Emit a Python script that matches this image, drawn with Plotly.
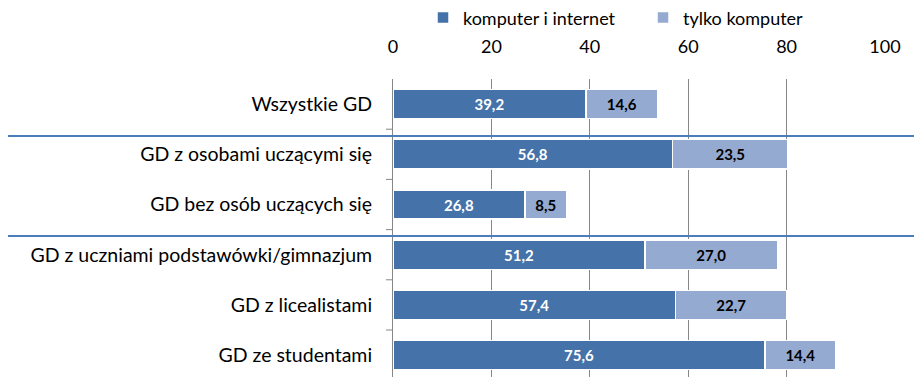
import plotly.graph_objects as go

categories = ["Wszystkie GD", "GD z osobami uczącymi się", "GD bez osób uczących się",
              "GD z uczniami podstawówki/gimnazjum", "GD z licealistami", "GD ze studentami"]
komputer_i_internet = [39.2, 56.8, 26.8, 51.2, 57.4, 75.6]
tylko_komputer = [14.6, 23.5, 8.5, 27.0, 22.7, 14.4]
x_ticks = [0, 20, 40, 60, 80, 100]

DARK = "#4572A8"
LIGHT = "#95AAD1"
FONT = "Lato"

pos = list(range(len(categories)))

def fmt(v):
    return f"{v:.1f}".replace(".", ",")

fig = go.Figure()
fig.add_trace(go.Bar(
    y=pos, x=komputer_i_internet, orientation="h", name="komputer i internet",
    marker=dict(color=DARK, line=dict(color="white", width=1.5)),
    width=0.58,
    text=[fmt(v) for v in komputer_i_internet], textposition="inside",
    insidetextanchor="middle", textangle=0,
    textfont=dict(color="white", size=15, family=FONT, weight="bold"),
))
fig.add_trace(go.Bar(
    y=pos, x=tylko_komputer, orientation="h", name="tylko komputer",
    marker=dict(color=LIGHT, line=dict(color="white", width=1.5)),
    width=0.58,
    text=[fmt(v) for v in tylko_komputer], textposition="inside",
    insidetextanchor="middle", textangle=0,
    textfont=dict(color="black", size=15, family=FONT, weight="bold"),
))

shapes = []
# group separator lines spanning the full width
for yv in [0.635, 2.628]:
    shapes.append(dict(type="line", xref="paper", yref="y", x0=-0.8, x1=1.1,
                       y0=yv, y1=yv, line=dict(color="#4A7EBB", width=2)))
# category boundary tick marks
for i in range(len(categories) - 1):
    shapes.append(dict(type="line", xref="paper", yref="y", x0=-0.0142, x1=0,
                       y0=i + 0.5, y1=i + 0.5, line=dict(color="#868686", width=1)))

fig.update_layout(
    width=922, height=377,
    margin=dict(l=385, r=45, t=71, b=8, autoexpand=False),
    paper_bgcolor="white", plot_bgcolor="white",
    barmode="stack", bargap=0.4,
    font=dict(family=FONT, size=18, color="black"),
    shapes=shapes,
    legend=dict(orientation="h", x=0.061, xanchor="left", y=1.205, yanchor="middle",
                font=dict(size=18), traceorder="normal", itemwidth=30,
                entrywidth=175,
                bgcolor="rgba(0,0,0,0)"),
    xaxis=dict(side="top", range=[0, 100], tickvals=x_ticks,
               showgrid=True, gridcolor="#868686", gridwidth=1,
               zeroline=False, showline=False,
               ticks="outside", ticklen=18, tickcolor="rgba(0,0,0,0)",
               tickfont=dict(size=18)),
    yaxis=dict(range=[5.436, -0.5], tickvals=pos, ticktext=categories,
               showgrid=False, zeroline=False, showline=True, linecolor="#868686",
               linewidth=1, ticks="", ticklabelstandoff=16,
               tickfont=dict(size=19.5)),
)

fig.write_html("out.html")
